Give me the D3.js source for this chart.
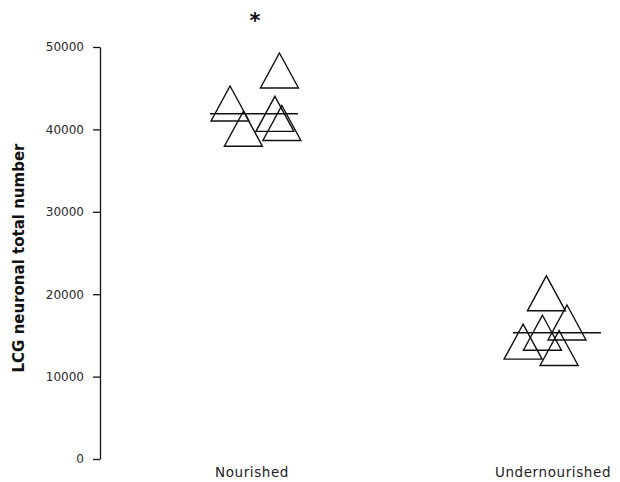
<!DOCTYPE html>
<html><head><meta charset="utf-8">
<script src="https://cdn.jsdelivr.net/npm/d3@7"></script>
<style>body{margin:0;background:#fff}svg{display:block}</style>
</head><body>
<svg id="c" width="620" height="482"></svg>
<script>
const categories = ["Nourished", "Undernourished"];
const nourishedValues = [43140, 47150, 40085, 41890, 40780];
const undernourishedValues = [20110, 16570, 15320, 14240, 13470];
// horizontal jitter of each marker, as a fraction of the category spacing
const nourishedJitter = [-0.079, 0.084, -0.035, 0.069, 0.092];
const undernourishedJitter = [-0.035, 0.033, -0.048, -0.112, 0.007];
const yTicks = [0, 10000, 20000, 30000, 40000, 50000];
const significance = ["*", ""];
const yLabel = "LCG neuronal total number";

const groups = [
  {cat: categories[0], values: nourishedValues, jitter: nourishedJitter, sig: significance[0]},
  {cat: categories[1], values: undernourishedValues, jitter: undernourishedJitter, sig: significance[1]}
];

const svg = d3.select("#c");
const y = d3.scaleLinear().domain([0, 50000]).range([459, 47]);
const x = d3.scalePoint().domain(categories).range([254, 557]);
const step = x(categories[1]) - x(categories[0]);

// y axis
const ax = svg.append("g").attr("transform", "translate(100,0)")
  .call(d3.axisLeft(y).tickValues(yTicks).tickFormat(d3.format("d")).tickSize(7).tickSizeOuter(0).tickPadding(9));
ax.select(".domain").attr("stroke", "#111").attr("stroke-width", 1.3);
ax.selectAll(".tick line").attr("stroke", "#111").attr("stroke-width", 1.3);
ax.selectAll(".tick text").attr("font-family", "DejaVu Sans").attr("font-size", 12).attr("fill", "#2a2a2a");

svg.append("text")
  .attr("transform", "translate(24,258) rotate(-90)")
  .attr("text-anchor", "middle")
  .attr("font-family", "DejaVu Sans").attr("font-weight", "bold").attr("font-size", 15)
  .attr("fill", "#111").text(yLabel);

// category labels
svg.selectAll("text.cat").data(categories).enter().append("text")
  .attr("class", "cat")
  .attr("x", (d, i) => x(d) - (i ? 4 : 2)).attr("y", 477)
  .attr("text-anchor", "middle")
  .attr("font-family", "DejaVu Sans").attr("font-size", 13.5).attr("letter-spacing", 0.6)
  .attr("fill", "#222").text(d => d);

// open triangle marker, 38 wide and 35 tall, centred at mid-height
const triW = 38, triH = 35;
function triangle(cx, cy) {
  const p = d3.path();
  p.moveTo(cx, cy - triH / 2);
  p.lineTo(cx + triW / 2, cy + triH / 2);
  p.lineTo(cx - triW / 2, cy + triH / 2);
  p.closePath();
  return p.toString();
}

groups.forEach(g => {
  const cx = x(g.cat);
  svg.append("g").selectAll("path").data(g.values).enter().append("path")
    .attr("d", (d, i) => triangle(cx + g.jitter[i] * step, y(d)))
    .attr("fill", "none").attr("stroke", "#111").attr("stroke-width", 1.4);
  const med = d3.median(g.values);
  svg.append("line")
    .attr("x1", cx - 44).attr("x2", cx + 44)
    .attr("y1", y(med)).attr("y2", y(med))
    .attr("stroke", "#111").attr("stroke-width", 1.5);
  if (g.sig) {
    svg.append("text").attr("x", cx + 1).attr("y", 28)
      .attr("text-anchor", "middle")
      .attr("font-family", "DejaVu Sans").attr("font-weight", "bold").attr("font-size", 21)
      .attr("fill", "#111").text(g.sig);
  }
});
</script>
</body></html>
